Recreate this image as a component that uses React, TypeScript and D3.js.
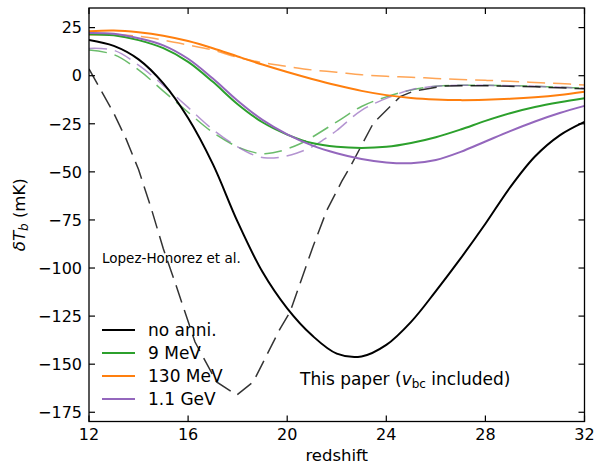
import React from "react";
import * as d3 from "d3";

const W = 597, H = 466;
const M = { left: 89, right: 584.5, top: 8, bottom: 421.5 };

const xTicks = [12, 16, 20, 24, 28, 32];
const yTicks = [25, 0, -25, -50, -75, -100, -125, -150, -175];

const zGrid = [12, 13, 14, 15, 16, 17, 18, 19, 20, 21, 22, 23, 24, 25, 26, 27, 28, 29, 30, 31, 32];

// no annihilation, this paper (solid black)
const noAnniT = [18.6, 15.5, 8.5, -4, -22, -46, -76, -102, -121, -135, -144.5, -146, -140, -128, -112, -95, -77, -58, -42, -31, -24];

// no annihilation, Lopez-Honorez et al. (dashed black)
const noAnniLHZ = [12, 12.5, 13, 13.5, 14, 14.5, 15, 15.5, 16.28, 17.15, 17.96, 18.63, 19.71, 20.11, 21.05, 21.6, 22.2, 22.6, 23.48, 24.56, 25.1, 26.4, 28, 30, 32];
const noAnniLHT = [3.5, -8, -19.5, -33, -48.8, -68.5, -90, -108.5, -138.5, -159.2, -166.1, -159.2, -131.6, -123, -88.5, -70, -55, -46, -24.6, -10.9, -8, -5.3, -5.2, -5.8, -6.8];

// 9 MeV
const mev9T = [21.6, 21, 18.5, 14.3, 7.2, -3.2, -14.8, -24.2, -30.6, -35, -37, -37.6, -37, -35, -32, -28, -23.5, -19.5, -16.3, -13.8, -11.7];
const mev9LHZ = [12, 13, 14, 15, 16, 17, 18, 18.7, 19.2, 19.7, 20.5, 21, 22, 23, 24, 25, 26, 27, 28, 30, 32];
const mev9LHT = [13.3, 11, 3, -8, -19, -29.5, -37, -40, -40.5, -39.3, -35.5, -32, -24, -16, -11, -7.5, -5.5, -5, -5, -5.5, -6.5];

// 130 MeV
const mev130T = [23.1, 23.5, 22.6, 20.8, 18.0, 14.3, 10.0, 5.8, 1.9, -1.7, -5.0, -7.9, -10.1, -11.6, -12.4, -12.7, -12.5, -12.0, -11.2, -10.0, -8.3];
const mev130LHT = [21.2, 21.4, 20.5, 18.5, 16, 13.3, 9.5, 6.8, 4.8, 3, 1.8, 0.5, -0.3, -0.8, -1.4, -2, -2.4, -2.9, -3.5, -4.1, -4.8];

// 1.1 GeV
const gev11T = [22.2, 21.8, 19.5, 15.8, 8.8, -1.5, -13, -23, -30.5, -36.2, -40.3, -43.3, -45.1, -45.5, -43.8, -39.6, -34.2, -28.8, -23.8, -19.4, -15.7];
const gev11LHZ = [12, 13, 14, 15, 16, 17, 18, 18.7, 19.2, 19.8, 20.4, 21, 21.5, 22, 23, 24, 25, 26, 27, 28, 30, 32];
const gev11LHT = [14.2, 13.2, 5.5, -5, -16.5, -28, -37, -41.5, -42.8, -42.2, -40.2, -37, -33, -28.5, -18, -11.8, -7.3, -5.5, -5, -5, -5.5, -6.5];

const legendLabels = ["no anni.", "9 MeV", "130 MeV", "1.1 GeV"];
const colors = ["#000000", "#2ca02c", "#ff7f0e", "#9467bd"];

const FONT = "DejaVu Sans";

export default function App() {
  const x = d3.scaleLinear().domain([12, 32]).range([M.left, M.right]);
  const y = d3.scaleLinear().domain([-179.8, 35.2]).range([M.bottom, M.top]);

  const smooth = d3.line<[number, number]>().x(d => x(d[0])).y(d => y(d[1])).curve(d3.curveCatmullRom.alpha(0.5));
  const lin = d3.line<[number, number]>().x(d => x(d[0])).y(d => y(d[1]));
  const pts = (zs: number[], ts: number[]) => zs.map((z, i) => [z, ts[i]] as [number, number]);

  const dashed = [
    { d: smooth(pts(zGrid, mev130LHT)), c: colors[2] },
    { d: smooth(pts(mev9LHZ, mev9LHT)), c: colors[1] },
    { d: smooth(pts(gev11LHZ, gev11LHT)), c: colors[3] },
    { d: lin(pts(noAnniLHZ, noAnniLHT)), c: colors[0] },
  ];
  const solid = [
    { d: smooth(pts(zGrid, noAnniT)), c: colors[0] },
    { d: smooth(pts(zGrid, mev9T)), c: colors[1] },
    { d: smooth(pts(zGrid, mev130T)), c: colors[2] },
    { d: smooth(pts(zGrid, gev11T)), c: colors[3] },
  ];

  const tickLen = 6;
  return (
    <svg width={W} height={H} style={{ position: "absolute", left: 0, top: 0 }} fontFamily={FONT}>
      <rect width={W} height={H} fill="#fff" />
      <defs>
        <clipPath id="plot">
          <rect x={M.left} y={M.top} width={M.right - M.left} height={M.bottom - M.top} />
        </clipPath>
      </defs>
      <g clipPath="url(#plot)" fill="none">
        {dashed.map((s, i) => (
          <path key={"d" + i} d={s.d || ""} stroke={s.c} strokeWidth={1.5} strokeDasharray="18,8" opacity={s.c === "#000000" ? 0.8 : 0.7} />
        ))}
        {solid.map((s, i) => (
          <path key={"s" + i} d={s.d || ""} stroke={s.c} strokeWidth={2} />
        ))}
      </g>
      <rect x={M.left} y={M.top} width={M.right - M.left} height={M.bottom - M.top} fill="none" stroke="#000" strokeWidth={1.3} />
      {xTicks.map(t => (
        <g key={"xt" + t}>
          <line x1={x(t)} x2={x(t)} y1={M.bottom} y2={M.bottom - tickLen} stroke="#000" strokeWidth={1.2} />
          <line x1={x(t)} x2={x(t)} y1={M.top} y2={M.top + tickLen} stroke="#000" strokeWidth={1.2} />
          <text x={x(t)} y={440} textAnchor="middle" fontSize={16}>{t}</text>
        </g>
      ))}
      {yTicks.map(t => (
        <g key={"yt" + t}>
          <line x1={M.left} x2={M.left + tickLen} y1={y(t)} y2={y(t)} stroke="#000" strokeWidth={1.2} />
          <line x1={M.right} x2={M.right - tickLen} y1={y(t)} y2={y(t)} stroke="#000" strokeWidth={1.2} />
          <text x={82} y={y(t)} dy="0.36em" textAnchor="end" fontSize={16}>{t < 0 ? "\u2212" + Math.abs(t) : t}</text>
        </g>
      ))}
      <text x={(M.left + M.right) / 2} y={461} textAnchor="middle" fontSize={16.5}>redshift</text>
      <text transform={`translate(25,${(M.top + M.bottom) / 2}) rotate(-90)`} textAnchor="middle" fontSize={16.5}>
        <tspan fontStyle="italic">δT</tspan>
        <tspan fontStyle="italic" fontSize={12} dy={3}>b</tspan>
        <tspan dy={-3}> (mK)</tspan>
      </text>
      <text x={102} y={258} dy="0.35em" fontSize={13.5}>Lopez-Honorez et al.</text>
      <text x={300} y={379} dy="0.35em" fontSize={17}>
        <tspan>This paper (</tspan>
        <tspan fontStyle="italic">v</tspan>
        <tspan fontSize={12} dy={3}>bc</tspan>
        <tspan dy={-3}> included)</tspan>
      </text>
      {legendLabels.map((l, i) => {
        const ly = 330 + i * 23;
        return (
          <g key={"lg" + i}>
            <line x1={102} x2={135} y1={ly} y2={ly} stroke={colors[i]} strokeWidth={2} />
            <text x={148} y={ly} dy="0.36em" fontSize={17}>{l}</text>
          </g>
        );
      })}
    </svg>
  );
}
